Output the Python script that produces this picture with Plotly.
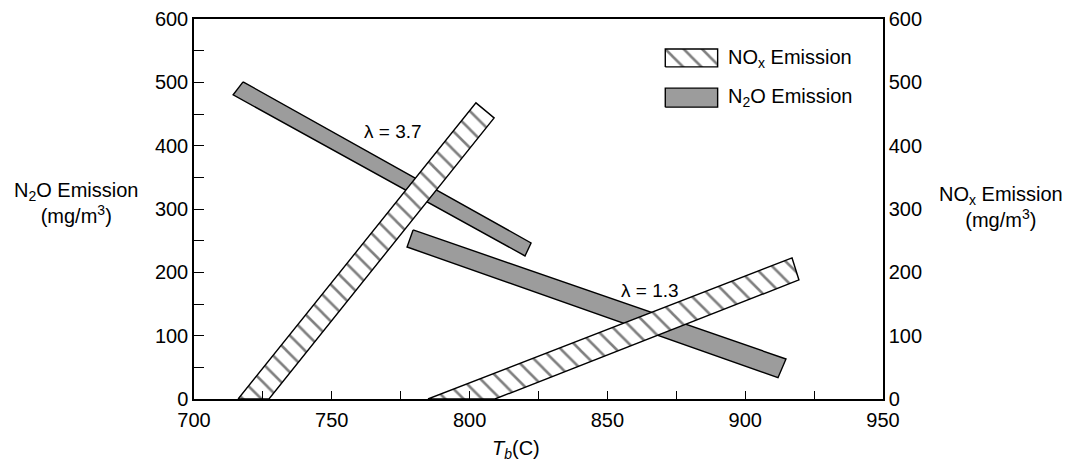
import plotly.graph_objects as go

# Band outlines (T_b in C, emission in mg/m3)
n2o_37_T = [717.8, 822.3, 820.1, 714.2]
n2o_37_E = [500.8, 246.4, 225.9, 480.3]
n2o_13_T = [779.5, 914.8, 911.9, 777.3]
n2o_13_E = [267.0, 63.2, 33.6, 240.0]
nox_37_T = [716.0, 802.3, 808.9, 727.2]
nox_37_E = [0.0, 467.6, 443.9, 0.0]
nox_13_T = [784.9, 917.0, 919.5, 809.2]
nox_13_E = [0.0, 222.7, 188.0, 0.0]

lambda_labels = ["λ = 3.7", "λ = 1.3"]
lambda_T = [772.2, 865.5]
lambda_E = [421.8, 172.0]

x_ticks = [700, 750, 800, 850, 900, 950]
y_ticks = [0, 100, 200, 300, 400, 500, 600]

legend_names = ["NO<sub>x</sub> Emission", "N<sub>2</sub>O Emission"]

FONT = "Liberation Sans, Arial, sans-serif"
GRAY = "#9c9c9c"
hatch = dict(shape="\\", size=13, solidity=0.2, fgcolor="black", bgcolor="white")
OUTLINE = dict(color="black", width=1.4)

fig = go.Figure()


def close(a):
    return a + [a[0]]


fig.add_trace(go.Scatter(x=close(nox_37_T), y=close(nox_37_E), fill="toself", mode="lines",
                         line=OUTLINE, fillcolor="white", fillpattern=hatch,
                         showlegend=False, yaxis="y2", hoverinfo="skip"))
fig.add_trace(go.Scatter(x=close(nox_13_T), y=close(nox_13_E), fill="toself", mode="lines",
                         line=OUTLINE, fillcolor="white", fillpattern=hatch,
                         showlegend=False, yaxis="y2", hoverinfo="skip"))
fig.add_trace(go.Scatter(x=close(n2o_37_T), y=close(n2o_37_E), fill="toself", mode="lines",
                         line=OUTLINE, fillcolor=GRAY, showlegend=False, hoverinfo="skip"))
fig.add_trace(go.Scatter(x=close(n2o_13_T), y=close(n2o_13_E), fill="toself", mode="lines",
                         line=OUTLINE, fillcolor=GRAY, showlegend=False, hoverinfo="skip"))

# Legend swatches drawn on a hidden overlay axis (0..1 over the plot area)
sw_x = [0.684, 0.760, 0.760, 0.684, 0.684]
sw1_y = [0.874, 0.874, 0.921, 0.921, 0.874]
sw2_y = [0.768, 0.768, 0.818, 0.818, 0.768]
fig.add_trace(go.Scatter(x=sw_x, y=sw1_y, fill="toself", mode="lines", line=OUTLINE,
                         fillcolor="white", fillpattern=hatch, showlegend=False,
                         xaxis="x2", yaxis="y3", hoverinfo="skip"))
fig.add_trace(go.Scatter(x=sw_x, y=sw2_y, fill="toself", mode="lines", line=OUTLINE,
                         fillcolor=GRAY, showlegend=False,
                         xaxis="x2", yaxis="y3", hoverinfo="skip"))
for name, yv in zip(legend_names, [0.897, 0.793]):
    fig.add_annotation(xref="x2", yref="y3", x=0.772, y=yv, text=name, showarrow=False,
                       xanchor="left", yanchor="middle", font=dict(size=20, color="black"))

for t, xv, yv in zip(lambda_labels, lambda_T, lambda_E):
    fig.add_annotation(x=xv, y=yv, text=t, showarrow=False, font=dict(size=19, color="black"))

fig.add_annotation(xref="paper", yref="paper", x=-0.171, y=0.515, xanchor="center",
                   yanchor="middle",
                   text="N<sub>2</sub>O Emission<br>(mg/m<sup>3</sup>)", showarrow=False,
                   font=dict(size=20, color="black"), align="center")
fig.add_annotation(xref="paper", yref="paper", x=1.171, y=0.505, xanchor="center",
                   yanchor="middle",
                   text="NO<sub>x</sub> Emission<br>(mg/m<sup>3</sup>)", showarrow=False,
                   font=dict(size=20, color="black"), align="center")
fig.add_annotation(xref="paper", yref="paper", x=0.467, y=-0.133, xanchor="center",
                   yanchor="middle", text="<i>T</i><sub><i>b</i></sub>(C)", showarrow=False,
                   font=dict(size=20, color="black"))

fig.update_layout(
    width=1070, height=465,
    margin=dict(l=194, r=187, t=19, b=66, autoexpand=False),
    paper_bgcolor="white", plot_bgcolor="white",
    font=dict(family=FONT, size=20, color="black"),
    showlegend=False,
    xaxis=dict(range=[700, 950], tickvals=x_ticks, ticks="inside", ticklen=8,
               tickcolor="black", showline=True, linecolor="black", linewidth=1.5,
               mirror=True, showgrid=False, zeroline=False, automargin=False,
               tickfont=dict(size=20), ticklabelstandoff=2,
               minor=dict(dtick=25, tick0=700, ticks="inside", ticklen=8, tickcolor="black")),
    yaxis=dict(range=[0, 600], tickvals=y_ticks, ticks="inside", ticklen=10,
               tickcolor="black", showline=True, linecolor="black", linewidth=1.5,
               showgrid=False, zeroline=False, tickfont=dict(size=20), automargin=False,
               minor=dict(dtick=50, tick0=0, ticks="inside", ticklen=10, tickcolor="black")),
    yaxis2=dict(range=[0, 600], tickvals=y_ticks, overlaying="y", side="right",
                ticks="", showline=True, linecolor="black", linewidth=1.5, automargin=False,
                showgrid=False, zeroline=False, tickfont=dict(size=20)),
    xaxis2=dict(range=[0, 1], overlaying="x", visible=False),
    yaxis3=dict(range=[0, 1], overlaying="y", visible=False),
)

fig.write_html("out.html", config={"displayModeBar": False},
               post_script="document.body.style.margin='0';document.body.style.overflow='hidden';")
